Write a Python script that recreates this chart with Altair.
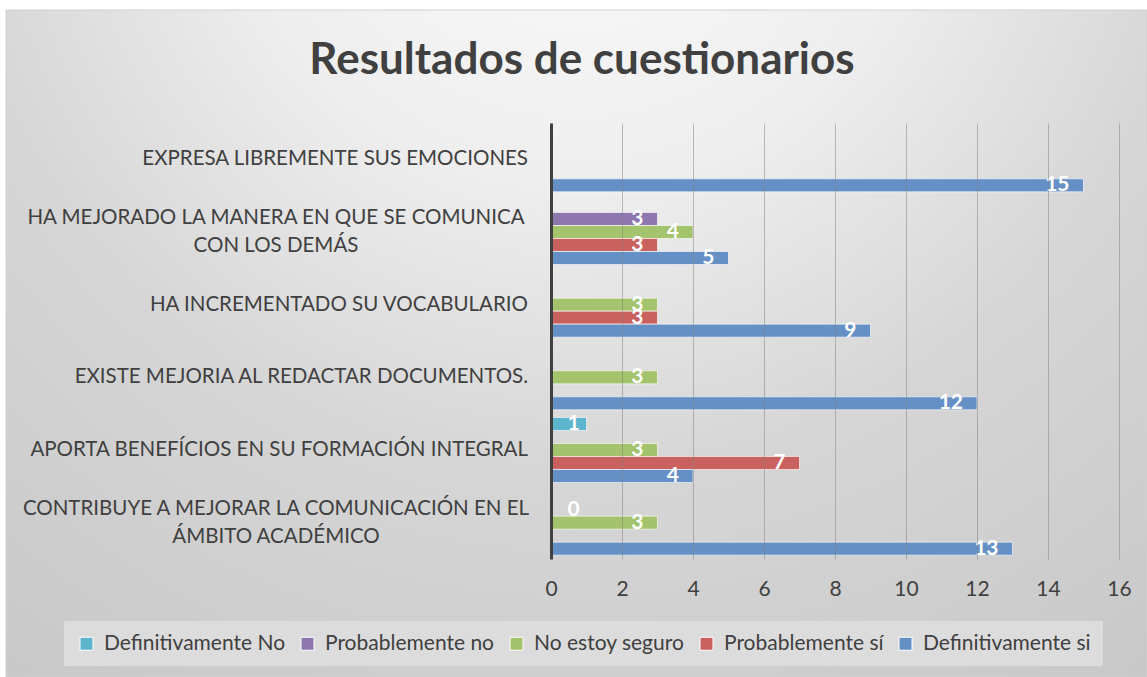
import altair as alt
import pandas as pd

title_text = "Resultados de cuestionarios"
categories = [
    "EXPRESA LIBREMENTE SUS EMOCIONES",
    "HA MEJORADO LA MANERA EN QUE SE COMUNICA\nCON LOS DEMÁS",
    "HA INCREMENTADO SU VOCABULARIO",
    "EXISTE MEJORIA AL REDACTAR DOCUMENTOS.",
    "APORTA BENEFÍCIOS EN SU FORMACIÓN INTEGRAL",
    "CONTRIBUYE A MEJORAR LA COMUNICACIÓN EN EL\nÁMBITO ACADÉMICO",
]
series = ["Definitivamente No", "Probablemente no", "No estoy seguro",
          "Probablemente sí", "Definitivamente si"]
colors = ["#5CB5CC", "#8E76AE", "#A4C36D", "#C9625E", "#6590C6"]

definitivamente_no = [None, None, None, None, 1, None]
probablemente_no = [None, 3, None, None, None, 0]
no_estoy_seguro = [None, 4, 3, 3, 3, 3]
probablemente_si = [None, 3, 3, None, 7, None]
definitivamente_si = [15, 5, 9, 12, 4, 13]
x_ticks = [0, 2, 4, 6, 8, 10, 12, 14, 16]

values_by_series = [definitivamente_no, probablemente_no, no_estoy_seguro,
                    probablemente_si, definitivamente_si]
rows = []
for s, vals in zip(series, values_by_series):
    for c, v in zip(categories, vals):
        if v is not None:
            rows.append({"cat": c, "serie": s, "value": v})
df = pd.DataFrame(rows)
cat_df = pd.DataFrame({"cat": categories})

FONT = "Lato"
TXT = "#404040"

y_enc = alt.Y(
    "cat:N",
    scale=alt.Scale(domain=categories, paddingInner=0.106, paddingOuter=0.053),
    axis=alt.Axis(labels=False, ticks=False, title=None, grid=False,
                  domainColor="#404040", domainWidth=3, zindex=1),
)
yoff = alt.YOffset("serie:N", scale=alt.Scale(domain=series, paddingInner=0, paddingOuter=0))
x_axis = alt.Axis(values=x_ticks, title=None, domain=False, ticks=False,
                  labelFontSize=21, labelFont=FONT, labelColor=TXT, labelPadding=19,
                  labelFlush=False,
                  grid=True, gridColor="#808080", gridOpacity=0.5, zindex=1)
x_scale = alt.Scale(domain=[0, 16], nice=False)

bg = alt.Chart(alt.Data(values=[{"a": 1}])).mark_rect(
    fill=alt.RadialGradient(
        gradient="radial",
        stops=[
            alt.GradientStop(offset=0, color="#fcfcfc"),
            alt.GradientStop(offset=0.3, color="#eeeeee"),
            alt.GradientStop(offset=0.55, color="#d6d6d6"),
            alt.GradientStop(offset=1, color="#c3c3c3"),
        ],
        x1=0.5, y1=0.06, r1=0, x2=0.5, y2=0.06, r2=1,
    ),
    stroke="#d0d0d0", strokeWidth=1,
).encode(x=alt.value(-545), x2=alt.value(596), y=alt.value(-113), y2=alt.value(554))

bars = alt.Chart(df).mark_bar(stroke="white", strokeOpacity=0.6, strokeWidth=1).encode(
    x=alt.X("value:Q", scale=x_scale, axis=x_axis),
    y=y_enc,
    yOffset=yoff,
    color=alt.Color(
        "serie:N",
        scale=alt.Scale(domain=series, range=colors),
        legend=alt.Legend(
            orient="none", legendX=-487, legendY=498, direction="horizontal",
            title=None, symbolType="square", symbolSize=169,
            symbolStrokeColor="white", symbolStrokeWidth=1, symbolOpacity=1,
            labelFont=FONT, labelFontSize=21, labelColor=TXT, labelOffset=7,
            labelLimit=0, columnPadding=11, fillColor="#dcdcdc", padding=12,
        ),
    ),
)

vlabels = alt.Chart(df).transform_calculate(
    lx="datum.value < 2 ? 1.2 : datum.value"
).mark_text(
    align="right", baseline="middle", dx=-14, color="white",
    fontWeight="bold", fontSize=21, font=FONT,
).encode(
    x=alt.X("lx:Q", scale=x_scale, axis=x_axis),
    y=y_enc,
    yOffset=yoff,
    text="value:Q",
)

cat_single = alt.Chart(cat_df).transform_filter(
    "indexof(datum.cat, '\\n') < 0"
).mark_text(align="right", baseline="middle", fontSize=20.5, font=FONT, color=TXT).encode(
    y=y_enc, x=alt.value(-23), text="cat:N"
)
cat_multi = alt.Chart(cat_df).transform_filter(
    "indexof(datum.cat, '\\n') >= 0"
).mark_text(align="center", baseline="middle", fontSize=20.5, font=FONT, color=TXT,
            lineBreak="\n", lineHeight=28, dy=-14).encode(
    y=y_enc, x=alt.value(-275), text="cat:N"
)

chart = alt.layer(bg, bars, vlabels, cat_single, cat_multi).properties(
    width=568,
    height=436,
    padding={"left": 551, "top": 123, "right": 28, "bottom": 118},
    autosize="none",
    title=alt.TitleParams(
        text=title_text, font=FONT, fontSize=44, fontWeight="bold", color=TXT,
        anchor="middle", frame="group", dx=-253, dy=156, baseline="alphabetic",
        offset=48,
    ),
).configure_view(strokeWidth=0).configure(background="white")

chart.save("out.html", embed_options={"renderer": "svg", "actions": False})
